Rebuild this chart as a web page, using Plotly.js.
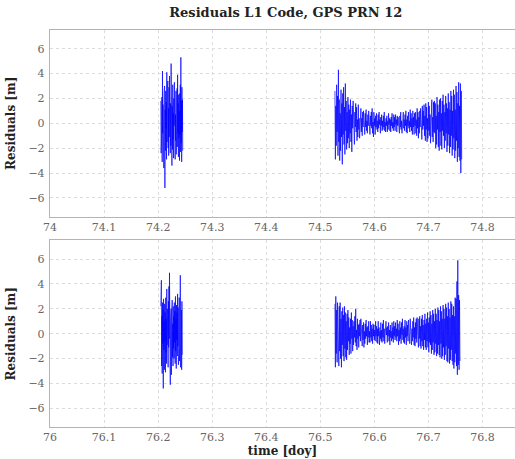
<!DOCTYPE html>
<html>
<head>
<meta charset="utf-8">
<script src="https://cdn.plot.ly/plotly-3.0.1.min.js"></script>
<style>html,body{margin:0;padding:0;background:#fff}#chart{width:515px;height:459px}</style>
</head>
<body>
<div id="chart"></div>
<script>
// ---- Data ----
// Day 74, first arc : residuals [m]
var d74aStart = 74.205, d74aStep = 0.0005;
var d74aRes = [
1.8,-2.4,0.6,-1.2,2.1,-3.1,4.2,-0.8,1.5,-2.7,
0.9,-3.6,2.4,-1.9,3.0,-5.2,1.1,-2.2,2.6,-0.4,
1.7,-2.9,4.1,-1.5,2.8,-0.6,3.4,-2.0,1.2,-2.6,
2.9,-1.1,3.8,-0.3,2.2,-2.4,1.6,-1.8,4.8,-0.9,
2.5,-3.4,1.4,-2.1,3.1,-1.3,0.8,-2.8,2.0,-0.2,
3.3,-1.7,1.9,-2.9,0.7,-1.4,2.6,-2.5,1.3,-0.6,
2.8,-1.9,3.9,-0.8,1.6,-2.7,2.3,-1.2,1.0,-3.0,
2.4,-0.9,3.1,-2.3,5.3,-1.6,1.8,-3.1,2.9,-0.7,
1.9,-2.2];
// Day 74, second arc
var d74bStart = 74.527, d74bStep = 0.0008;
var d74bRes = [
2.6,-2.9,1.4,-1.8,3.1,-0.7,2.2,-2.6,4.3,-1.5,
1.9,-3.0,0.8,-2.2,2.7,-1.1,1.6,-3.3,2.4,-0.9,
2.9,-1.7,1.3,-2.5,3.2,-0.6,1.8,-2.1,0.9,-1.6,
2.1,-1.2,1.5,-2.0,1.1,-0.8,1.9,-1.5,0.7,-2.3,
1.4,-0.4,1.8,-0.6,0.5,-1.7,0.9,-0.3,1.6,-0.7,
1.3,-1.4,0.3,-1.1,1.5,-0.5,0.4,-1.2,0.6,-0.2,
1.2,-0.7,0.4,-1.0,0.9,-0.3,1.0,-0.4,0.2,-0.9,
0.8,-0.3,1.1,-0.6,0.2,-0.8,0.7,-0.2,1.0,-0.5,
0.3,-0.9,0.6,-0.2,0.9,-0.4,1.2,-0.8,0.1,-1.1,
0.9,-0.2,0.4,-0.9,0.6,-0.3,0.8,-0.5,0.2,-0.7,
0.7,-0.4,0.9,-0.1,0.3,-0.8,0.5,-0.2,0.7,-0.6,
0.2,-0.5,0.6,-0.3,0.9,-0.6,0.1,-0.7,0.4,-0.2,
0.6,-0.7,0.2,-0.5,0.8,-0.1,0.4,-0.6,0.3,-0.7,
0.5,-0.2,0.8,-0.4,0.1,-0.6,0.7,-0.3,0.5,-0.6,
0.7,-0.1,0.3,-0.7,0.6,-0.2,0.5,-0.5,0.2,-0.8,
0.6,-0.3,0.9,-0.5,0.2,-0.8,0.4,-0.1,0.9,-0.4,
0.3,-0.6,0.7,-0.2,1.0,-0.7,0.3,-0.8,0.6,-0.2,
0.9,-0.4,0.2,-0.7,1.1,-0.3,0.8,-0.6,0.4,-0.9,
1.0,-0.3,0.5,-0.9,0.8,-0.2,0.9,-0.8,0.3,-1.0,
1.2,-0.4,0.9,-1.2,0.5,-0.8,1.0,-0.3,1.2,-0.6,
0.4,-1.3,1.4,-0.5,1.0,-0.2,1.5,-1.0,0.6,-1.4,
1.6,-0.5,1.3,-1.5,0.4,-1.2,1.7,-0.6,1.4,-1.0,
0.7,-1.6,1.2,-0.6,1.9,-1.1,0.5,-1.5,1.7,-0.7,
1.8,-0.8,1.6,-2.0,0.6,-1.7,2.1,-0.5,1.5,-1.9,
0.9,-2.2,1.9,-0.7,2.0,-1.8,0.8,-2.1,1.8,-0.6,
2.3,-1.0,1.5,-2.0,0.9,-1.4,2.2,-0.8,1.6,-2.3,
1.2,-1.8,2.4,-0.9,1.7,-2.4,1.1,-1.9,2.6,-1.0,
2.2,-2.6,1.0,-2.1,2.7,-1.2,2.3,-2.8,1.1,-2.2,
3.0,-1.4,2.5,-3.1,1.6,-2.0,3.3,-2.7,1.4,-3.0,
3.2,-4.0,2.6,-2.9];
// Day 76, first arc
var d76aStart = 76.205, d76aStep = 0.0005;
var d76aRes = [
2.2,-1.9,4.3,-2.6,1.4,-3.2,2.5,-0.8,1.9,-4.4,
2.8,-1.3,1.0,-2.9,2.4,-0.6,1.7,-3.1,2.9,-1.5,
1.2,-2.4,3.6,-0.9,2.0,-1.8,1.5,-2.7,2.6,-1.1,
3.8,-0.4,4.9,-1.6,2.3,-4.1,1.1,-2.2,2.0,-3.3,
1.6,-0.9,2.7,-1.9,0.8,-2.6,2.2,-1.2,1.4,-2.0,
2.5,-0.7,1.8,-2.4,3.0,-1.4,1.2,-2.8,2.3,-0.5,
1.7,-1.8,3.2,-1.0,2.1,-2.5,1.3,-1.6,2.9,-2.2,
1.5,-1.2,4.7,-2.7,2.4,-0.8,1.9,-2.9,2.6,-1.7];
// Day 76, second arc
var d76bStart = 76.527, d76bStep = 0.0008;
var d76bRes = [
2.4,-2.7,3.0,-1.6,1.9,-2.3,2.5,-1.1,1.4,-2.6,
2.2,-1.4,2.5,-2.0,1.2,-2.7,1.8,-0.9,2.1,-1.8,
1.5,-2.2,2.2,-1.2,1.7,-1.9,1.0,-2.1,1.6,-1.3,
1.9,-0.6,1.3,-1.7,0.5,-0.8,1.2,-1.6,1.7,-0.4,
1.1,-1.4,0.6,-0.9,1.0,-0.3,1.4,-0.7,2.0,-1.0,
0.3,-1.3,1.2,-0.4,0.7,-1.1,0.8,-0.2,1.1,-0.6,
1.2,-0.3,0.4,-1.0,0.7,-0.5,0.9,-1.1,0.2,-0.8,
0.8,-0.4,1.1,-0.2,0.5,-0.9,0.6,-0.3,1.0,-0.7,
0.2,-0.7,1.0,-0.3,0.7,-0.6,0.4,-0.8,0.8,-0.2,
0.7,-0.5,0.3,-0.6,1.0,-0.2,0.6,-0.7,0.4,-0.8,
1.0,-0.2,0.5,-0.9,0.2,-0.4,0.9,-0.6,0.3,-0.7,
0.8,-0.3,1.1,-0.6,0.4,-0.8,0.2,-0.5,1.0,-0.1,
0.5,-0.7,0.6,-0.2,0.9,-0.6,0.3,-0.9,0.7,-0.3,
0.2,-0.6,0.9,-0.4,0.5,-0.7,1.0,-0.2,0.6,-0.5,
0.9,-0.3,0.4,-0.6,1.1,-0.2,0.8,-0.9,0.3,-0.6,
1.0,-0.4,0.5,-0.8,0.9,-0.1,1.2,-0.5,0.4,-0.7,
0.6,-0.8,1.1,-0.3,0.5,-0.9,1.0,-0.2,0.7,-0.6,
1.1,-0.4,0.6,-0.8,1.2,-0.3,0.7,-0.9,0.4,-0.6,
1.0,-0.3,1.3,-0.9,0.5,-1.0,0.9,-0.4,1.2,-0.7,
1.3,-0.5,0.8,-1.1,1.2,-0.4,1.4,-1.0,0.6,-1.2,
1.2,-0.6,1.5,-1.0,0.7,-1.3,1.1,-0.5,1.6,-1.1,
0.8,-1.3,1.2,-0.6,1.7,-1.1,0.9,-1.5,1.3,-0.7,
1.8,-0.9,1.5,-1.6,0.8,-1.3,1.9,-0.7,1.6,-1.7,
1.0,-1.5,2.0,-0.8,1.6,-1.8,1.1,-1.6,2.1,-0.9,
1.9,-1.7,1.0,-1.9,2.2,-0.8,1.8,-2.0,1.2,-1.8,
2.3,-1.1,2.0,-2.1,1.2,-1.7,2.4,-1.0,2.1,-2.2,
1.4,-2.3,2.5,-1.2,2.0,-2.4,1.3,-2.1,2.6,-1.3,
2.4,-2.2,1.5,-2.5,2.2,-2.8,1.4,-2.3,2.9,-1.6,
2.8,-2.6,4.2,-3.3,5.9,-2.5,3.1,-2.9,2.7,-2.2];

var title = 'Residuals L1 Code, GPS PRN 12';
var yTitle = 'Residuals [m]';
var xTitle = 'time [doy]';

// epoch times from the arc start and the sampling interval
function epochs(start, step, n){ var t=[]; for(var i=0;i<n;i++) t.push(start+i*step); return t; }

var lineStyle = {color:'#0000ff', width:0.7};
function arc(start, step, res, xa, ya){
  return {x:epochs(start, step, res.length), y:res, type:'scatter', mode:'lines',
          line:lineStyle, xaxis:xa, yaxis:ya, hoverinfo:'skip', showlegend:false};
}
var traces = [
  arc(d74aStart, d74aStep, d74aRes, 'x', 'y'),
  arc(d74bStart, d74bStep, d74bRes, 'x', 'y'),
  arc(d76aStart, d76aStep, d76aRes, 'x2', 'y2'),
  arc(d76bStart, d76bStep, d76bRes, 'x2', 'y2')
];

var serif = 'DejaVu Serif, Liberation Serif, serif';
var tickFont = {family:serif, size:11, color:'#666'};
function xax(r, anchor, extra){
  var a = {range:r, dtick:0.1, tick0:r[0], anchor:anchor, showgrid:true, gridcolor:'#dcdcdc', griddash:'dot',
    gridwidth:1, zeroline:false, showline:true, mirror:true, linecolor:'#b4b4b4', linewidth:1.2,
    ticks:'', tickfont:tickFont, fixedrange:true};
  for (var k in extra) a[k]=extra[k];
  return a;
}
function yax(dom, anchor){
  return {domain:dom, range:[-7.5,7.5], dtick:2, tick0:0, anchor:anchor, showgrid:true, gridcolor:'#dcdcdc',
    griddash:'dot', gridwidth:1, zeroline:false, showline:true, mirror:true, linecolor:'#b4b4b4', linewidth:1.2,
    ticks:'', tickfont:tickFont, ticklabelstandoff:2,
    title:{text:'<b>'+yTitle+'</b>', font:{family:serif, size:12, color:'#222'}, standoff:10}};
}

var layout = {
  width:515, height:459,
  margin:{l:50, r:0, t:30, b:32},
  paper_bgcolor:'#fff', plot_bgcolor:'#fff',
  title:{text:'<b>'+title+'</b>', font:{family:serif, size:13, color:'#222'}, x:0.555, xanchor:'center', y:0.972, yanchor:'middle'},
  xaxis: xax([74, 74.86], 'y', {}),
  yaxis: yax([0.53, 1], 'x'),
  xaxis2: xax([76, 76.86], 'y2', {title:{text:'<b>'+xTitle+'</b>', font:{family:serif, size:12, color:'#222'}, standoff:2}}),
  yaxis2: yax([0, 0.47], 'x2'),
  showlegend:false
};

Plotly.newPlot('chart', traces, layout, {staticPlot:true, displayModeBar:false});
</script>
</body>
</html>
